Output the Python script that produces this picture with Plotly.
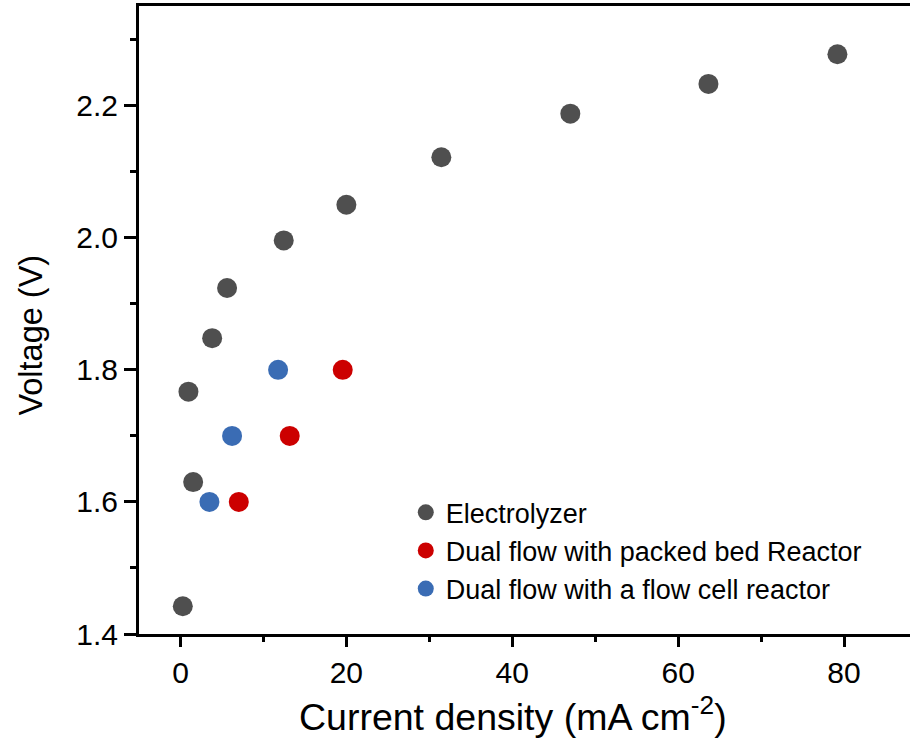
import plotly.graph_objects as go

# Data
elec_x = [0.28, 1.53, 0.96, 3.82, 5.62, 12.45, 20.0, 31.45, 47.0, 63.65, 79.2]
elec_y = [1.442, 1.630, 1.767, 1.848, 1.924, 1.996, 2.050, 2.122, 2.188, 2.233, 2.278]

packed_x = [7.03, 13.17, 19.56]
packed_y = [1.60, 1.70, 1.80]

flowcell_x = [3.49, 6.22, 11.77]
flowcell_y = [1.60, 1.70, 1.80]

series_names = ["Electrolyzer", "Dual flow with packed bed Reactor", "Dual flow with a flow cell reactor"]
colors = ["#4F4F4F", "#CC0000", "#3A6CB4"]

x_title = "Current density (mA cm<sup>-2</sup>)"
y_title = "Voltage (V)"

fig = go.Figure()
for name, xs, ys, c in zip(series_names,
                           [elec_x, packed_x, flowcell_x],
                           [elec_y, packed_y, flowcell_y],
                           colors):
    fig.add_trace(go.Scatter(x=xs, y=ys, mode="markers", name=name,
                             marker=dict(size=20, color=c, line=dict(width=0))))

font = "Arial, Liberation Sans, sans-serif"
fig.update_layout(
    width=910, height=739,
    margin=dict(l=139, r=0, t=6, b=105),
    plot_bgcolor="white", paper_bgcolor="white",
    font=dict(family=font, color="black"),
    showlegend=True,
    legend=dict(x=0.346, y=0.232, xanchor="left", yanchor="top",
                font=dict(size=27, family=font, color="black"),
                bgcolor="rgba(0,0,0,0)", tracegroupgap=0),
    xaxis=dict(range=[-5, 87.95], tick0=0, dtick=20, showgrid=False, zeroline=False,
               showline=True, linecolor="black", linewidth=3, mirror=True,
               ticks="outside", ticklen=10, tickwidth=2.5, tickcolor="black",
               tickfont=dict(size=30, family=font),
               minor=dict(dtick=10, ticks="outside", ticklen=5, tickwidth=2.5, tickcolor="black")),
    yaxis=dict(range=[1.4, 2.351], tick0=1.4, dtick=0.2, tickformat=".1f", showgrid=False, zeroline=False,
               showline=True, linecolor="black", linewidth=3, mirror=False,
               ticks="outside", ticklen=12, tickwidth=2.5, tickcolor="black",
               tickfont=dict(size=30, family=font),
               minor=dict(dtick=0.1, ticks="outside", ticklen=6, tickwidth=2.5, tickcolor="black")),
    annotations=[
        dict(text=x_title, xref="paper", yref="paper", x=0.4857, y=-0.128,
             xanchor="center", yanchor="middle", showarrow=False,
             font=dict(size=37.5, family=font, color="black")),
        dict(text=y_title, xref="paper", yref="paper", x=-0.1394, y=0.476,
             xanchor="center", yanchor="middle", showarrow=False, textangle=-90,
             font=dict(size=32.5, family=font, color="black")),
    ],
)

fig.write_html("out.html")
